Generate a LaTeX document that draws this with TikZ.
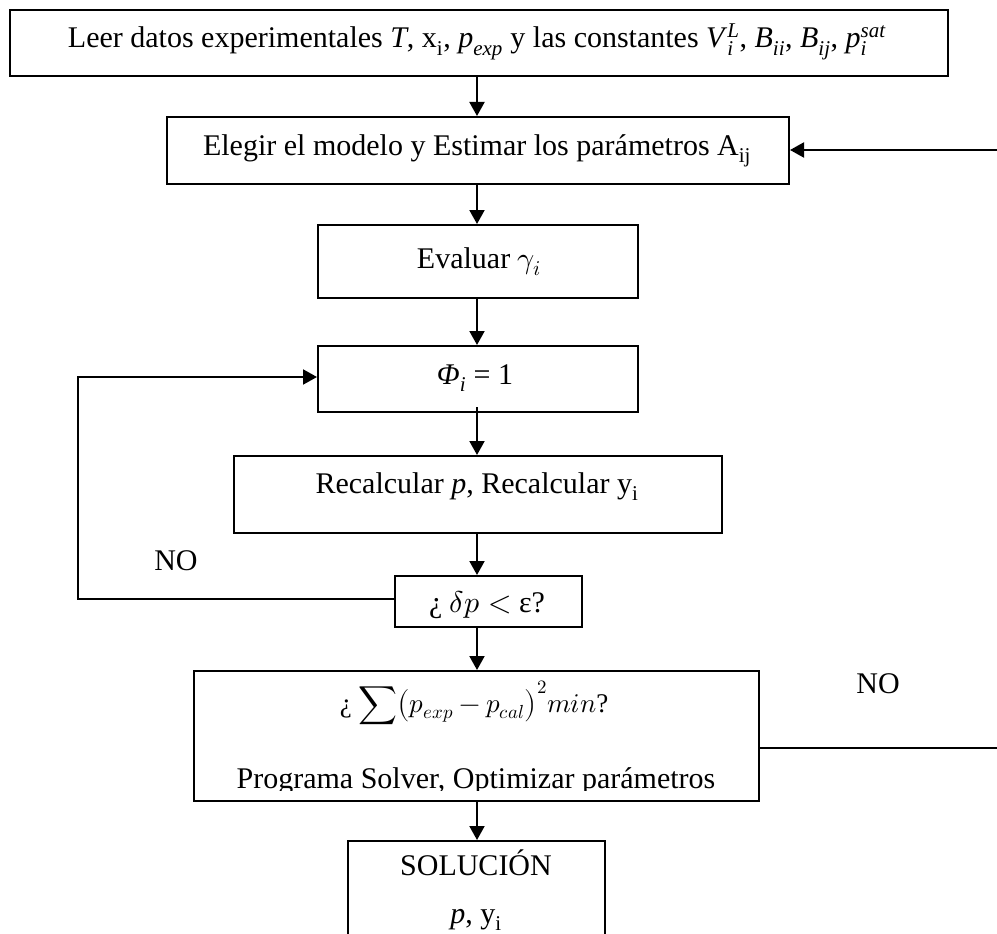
\documentclass[tikz,border=0pt]{standalone}
\usepackage{fontspec}
\usepackage{unicode-math}
\setmainfont{Liberation Serif}
\setmathfont{Latin Modern Math}
\usetikzlibrary{arrows.meta}
\begin{document}
\begin{tikzpicture}[x=1pt,y=-1pt,
  box/.style={draw,line width=2pt,rectangle,inner sep=0pt,anchor=north west},
  lbl/.style={inner sep=0pt,anchor=base,font=\fontsize{30}{34}\selectfont},
  arr/.style={line width=2pt,-{Triangle[length=14pt,width=15pt]}},
  ln/.style={line width=2pt}]
\useasboundingbox (0,0) rectangle (997,934);
\clip (0,0) rectangle (997,934);
\fill[white] (0,0) rectangle (997,934);
% boxes
\node[box,minimum width=938pt,minimum height=66pt] (b1) at (9,9) {};
\node[lbl] at (477,48) {Leer datos experimentales \textit{T}, x\textsubscript{i}, \textit{p}\textsubscript{\textit{exp}} y las constantes \textit{V}\rlap{\textsubscript{\textit{i}}}\textsuperscript{\textit{L}}, \textit{B}\textsubscript{\textit{ii}}, \textit{B}\textsubscript{\textit{ij}}, \textit{p}\rlap{\textsubscript{\textit{i}}}\textsuperscript{\textit{sat}}};
\node[box,minimum width=622pt,minimum height=67pt] (b2) at (166,116) {};
\node[lbl] at (477,155) {Elegir el modelo y Estimar los parámetros A\textsubscript{ij}};
\node[box,minimum width=320pt,minimum height=73pt] (b3) at (317,224) {};
\node[lbl] at (479,268) {Evaluar $\gamma_{i}$};
\node[box,minimum width=320pt,minimum height=66pt] (b4) at (317,345) {};
\node[lbl] at (475,384) {\textit{Φ\textsubscript{i}} = 1};
\node[box,minimum width=488pt,minimum height=77pt] (b5) at (233,455) {};
\node[lbl] at (477,493) {Recalcular \textit{p}, Recalcular y\textsubscript{i}};
\node[box,minimum width=187pt,minimum height=51pt] (b6) at (394,575) {};
\node[lbl] at (487,612) {¿ $\delta p<$ ε?};
\node[box,minimum width=565pt,minimum height=130pt] (b7) at (193,670) {};
\node[lbl,font=\fontsize{27}{32}\selectfont] at (474,712) {¿ $\displaystyle\sum\!\left(p_{exp}-p_{cal}\right)^{2}\!min$?};
\begin{scope}
\clip (193,670) rectangle (758,790);
\node[lbl] at (476,788) {Programa Solver, Optimizar parámetros};
\end{scope}
\node[box,minimum width=257pt,minimum height=120pt] (b8) at (347,840) {};
\node[lbl] at (476,875) {SOLUCIÓN};
\node[lbl] at (476,923) {\textit{p}, y\textsubscript{i}};
% labels
\node[lbl] (no1) at (176,570) {NO};
\node[lbl] (no2) at (878,693) {NO};
% coordinates
\coordinate (eR2) at (997,150);
\coordinate (eR7) at (997,748);
\coordinate (lA) at (78,599);
\coordinate (lB) at (78,377);
\coordinate (cx) at (477,0);
% connectors
\draw[arr] (b1.south -| cx) -- (b2.north -| cx);
\draw[arr] (b2.south -| cx) -- (b3.north -| cx);
\draw[arr] (b3.south -| cx) -- (b4.north -| cx);
\draw[arr] ([yshift=6pt]b4.south -| cx) -- (b5.north -| cx);
\draw[arr] (b5.south -| cx) -- (b6.north -| cx);
\draw[arr] (b6.south -| cx) -- (b7.north -| cx);
\draw[arr] (b7.south -| cx) -- (b8.north -| cx);
\draw[arr] (eR2) -- (b2.east |- eR2);
\draw[ln] (b7.east |- eR7) -- (eR7);
\draw[arr] (b6.west |- lA) -- (lA) -- (lB) -- (b4.west |- lB);
\end{tikzpicture}
\end{document}
